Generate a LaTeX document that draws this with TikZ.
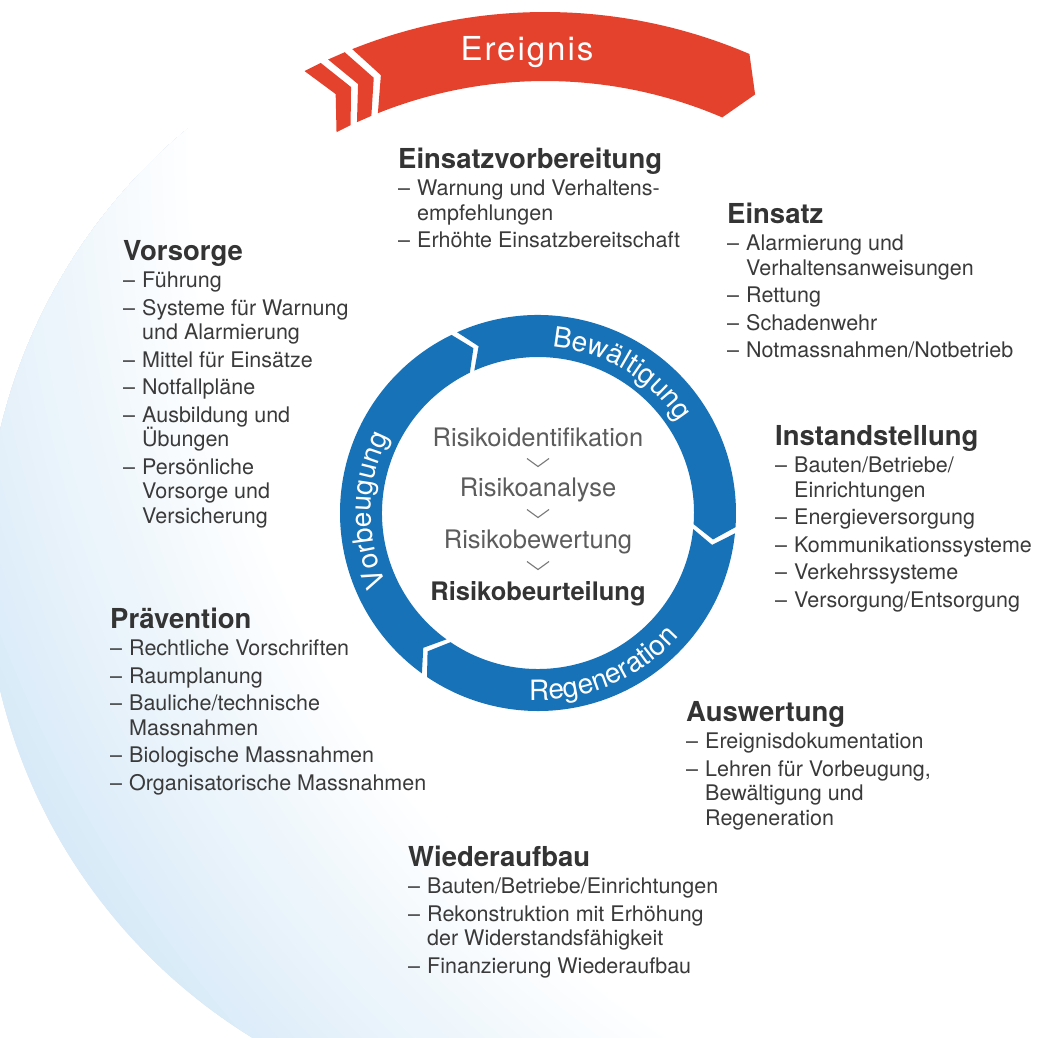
\documentclass[tikz,border=0pt]{standalone}
\usepackage{fontspec}
\setmainfont{TeX Gyre Heros}
\usetikzlibrary{decorations.text,calc}

\definecolor{ringblue}{RGB}{23,114,183}
\definecolor{bandred}{RGB}{229,66,46}
\definecolor{bgtint}{RGB}{216,234,248}
\definecolor{bodygray}{RGB}{58,58,58}
\definecolor{headgray}{RGB}{52,52,52}
\definecolor{midgray}{RGB}{92,92,92}
\definecolor{chevgray}{RGB}{120,120,120}

% text blocks: heading, dashed items, continuation lines
\newlength\dashw \setlength\dashw{19bp}
\newcommand\blkhead[1]{\hbox{\fontsize{27.5bp}{24.5bp}\selectfont\bfseries\color{headgray}#1}}
\newcommand\blkitem[1]{\kern3bp\hbox{\makebox[\dashw][l]{–}#1}}
\newcommand\blkcont[1]{\hbox{\hspace*{\dashw}#1}}

\newcommand\ringfont{\fontsize{28bp}{28bp}\selectfont}

\begin{document}
\begin{tikzpicture}[x=1bp,y=1bp,
  block/.style={inner sep=0pt, anchor=base west, text=bodygray,
    font=\fontsize{21.5bp}{24.5bp}\selectfont},
  risk/.style={inner sep=0pt, anchor=base, text=midgray,
    font=\fontsize{25.5bp}{28bp}\selectfont},
  chev/.style={draw=chevgray, line width=1.1bp, line join=miter},
  ringtext/.style={decorate, decoration={text along path, text align=center,
    text color=white}}]

\useasboundingbox (0,0) rectangle (1043,-1038);
\fill[white] (0,0) rectangle (1043,-1038);

% background halo inside a large disc: stepped rings, tinted towards the lower left
\begin{scope}
  \clip (545,-560) circle (560bp);
  \foreach \k in {0,...,28}{
    \pgfmathsetmacro\rr{1400-12*\k}
    \pgfmathsetmacro\ff{min(100,max(0,(\rr-1060)/320*100))}
    \fill[bgtint!\ff!white] (1250,-150) circle (\rr bp);
  }
\end{scope}
\fill[white] (1250,-150) circle (1062bp);

% ---------- event band ----------
\begin{scope}[shift={(545,-531)}]
  \def\Bo{519bp}\def\Bi{450bp}\def\Bm{484.5bp}
  \fill[bandred] (111.8:\Bo) arc[start angle=111.8, end angle=66.8, radius=\Bo]
    -- (64.3:\Bm) -- (66.8:\Bi) arc[start angle=66.8, end angle=111.8, radius=\Bi]
    -- (109.8:\Bm) -- cycle;
  \foreach \a in {112.7,115.6}{
    \fill[bandred] (\a:\Bo) -- (\a-2:\Bm) -- (\a:\Bi) -- (\a+2:\Bi)
      -- (\a:\Bm) -- (\a+2:\Bo) -- cycle;
  }
\end{scope}
\node[text=white, font=\fontsize{33bp}{33bp}\selectfont\addfontfeatures{LetterSpace=6}, inner sep=0pt] (ereignis) at (527,-52) {Ereignis};

% ---------- cycle ring ----------
\begin{scope}[shift={(538,-513)}]
  \def\Ro{198bp}\def\Ri{156bp}\def\Rm{177bp}
  \foreach \ta/\la in {235/115, 115/-5, 355/235}{
    \fill[ringblue] (\ta-0.9:\Ro) arc[start angle=\ta-0.9, end angle=\la+0.9, radius=\Ro]
      -- (\la+0.9-4.5:\Rm) -- (\la+0.9:\Ri)
      arc[start angle=\la+0.9, end angle=\ta-0.9, radius=\Ri]
      -- (\ta-0.9-4.5:\Rm) -- cycle;
  }
  \path[ringtext, decoration={text={|\ringfont|Bewältigung}}]
    (95:167bp) arc[start angle=95, end angle=23, radius=167bp];
  \path[ringtext, decoration={text={|\ringfont|Vorbeugung}}]
    (215:167bp) arc[start angle=215, end angle=143, radius=167bp];
  \path[ringtext, decoration={text={|\ringfont|Regeneration}}]
    (-104:187bp) arc[start angle=-104, end angle=-30, radius=187bp];
\end{scope}

% ---------- risk assessment chain ----------
\node[risk] (ri) at (538,-446) {Risikoidentifikation};
\node[risk] (ra) at (538,-496) {Risikoanalyse};
\node[risk] (rb) at (538,-548) {Risikobewertung};
\node[risk, text=headgray, font=\fontsize{25.5bp}{28bp}\selectfont\bfseries] (rbu) at (538,-600) {Risikobeurteilung};
\coordinate (c1) at ($(ri.base)!0.5!(ra.base)+(0,8.5)$);
\coordinate (c2) at ($(ra.base)!0.5!(rb.base)+(0,8.5)$);
\coordinate (c3) at ($(rb.base)!0.5!(rbu.base)+(0,8.5)$);
\foreach \c in {c1,c2,c3}{
  \draw[chev] (\c) ++(-11,4) -- ++(11,-8) -- ++(11,8);
}

% ---------- measure blocks ----------
\node[block] (einsatzvorb) at (398,-168) {\vtop{%
  \blkhead{Einsatzvorbereitung}
  \blkitem{Warnung und Verhaltens-}
  \blkcont{empfehlungen}
  \blkitem{Erhöhte Einsatzbereitschaft}}};

\node[block] (einsatz) at (727,-223) {\vtop{%
  \blkhead{Einsatz}
  \blkitem{Alarmierung und}
  \blkcont{Verhaltensanweisungen}
  \blkitem{Rettung}
  \blkitem{Schadenwehr}
  \blkitem{Notmassnahmen/Notbetrieb}}};

\node[block] (vorsorge) at (123,-260) {\vtop{%
  \blkhead{Vorsorge}
  \blkitem{Führung}
  \blkitem{Systeme für Warnung}
  \blkcont{und Alarmierung}
  \blkitem{Mittel für Einsätze}
  \blkitem{Notfallpläne}
  \blkitem{Ausbildung und}
  \blkcont{Übungen}
  \blkitem{Persönliche}
  \blkcont{Vorsorge und}
  \blkcont{Versicherung}}};

\node[block] (instand) at (775,-445) {\vtop{%
  \blkhead{Instandstellung}
  \blkitem{Bauten/Betriebe/}
  \blkcont{Einrichtungen}
  \blkitem{Energieversorgung}
  \blkitem{Kommunikationssysteme}
  \blkitem{Verkehrssysteme}
  \blkitem{Versorgung/Entsorgung}}};

\node[block] (praevention) at (110,-628) {\vtop{%
  \blkhead{Prävention}
  \blkitem{Rechtliche Vorschriften}
  \blkitem{Raumplanung}
  \blkitem{Bauliche/technische}
  \blkcont{Massnahmen}
  \blkitem{Biologische Massnahmen}
  \blkitem{Organisatorische Massnahmen}}};

\node[block] (auswertung) at (686,-721) {\vtop{%
  \blkhead{Auswertung}
  \blkitem{Ereignisdokumentation}
  \blkitem{Lehren für Vorbeugung,}
  \blkcont{Bewältigung und}
  \blkcont{Regeneration}}};

\node[block] (wiederaufbau) at (408,-866) {\vtop{%
  \blkhead{Wiederaufbau}
  \blkitem{Bauten/Betriebe/Einrichtungen}
  \blkitem{Rekonstruktion mit Erhöhung}
  \blkcont{der Widerstandsfähigkeit}
  \blkitem{Finanzierung Wiederaufbau}}};

\end{tikzpicture}
\end{document}
